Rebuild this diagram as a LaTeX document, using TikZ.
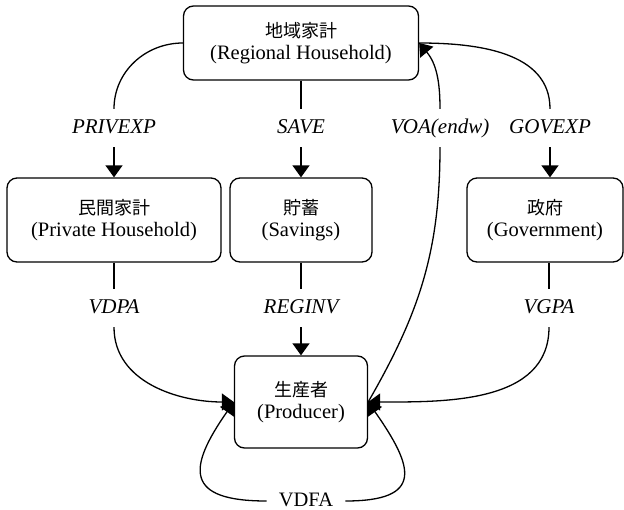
\documentclass[tikz,border=0pt]{standalone}
\usepackage{fontspec}
\setmainfont{Liberation Serif}
\newfontfamily\jpfont{Noto Sans CJK JP}
\usetikzlibrary{arrows.meta}

\newcommand{\jp}[1]{{\jpfont\fontsize{18}{22}\selectfont #1}}

\begin{document}
\begin{tikzpicture}[x=1pt, y=-1pt, >={Triangle[width=17pt,length=12pt]},
    box/.style={rectangle, draw, line width=1.3pt, rounded corners=10pt, align=center, inner sep=0pt, font=\fontsize{20.5}{22}\selectfont},
    flow/.style={inner xsep=12pt, inner ysep=10pt, text height=14pt, text depth=4pt, font=\fontsize{21}{22}\selectfont\itshape},
    link/.style={line width=1.3pt},
    arrow/.style={->, line width=1.3pt}]
  \useasboundingbox (0,0) rectangle (624,509);
  % agents
  \node[box, minimum width=235pt, minimum height=74pt] (reg) at (301,43) {\jp{地域家計}\\(Regional Household)};
  \node[box, minimum width=214pt, minimum height=84pt] (priv) at (114,220) {\jp{民間家計}\\(Private Household)};
  \node[box, minimum width=142pt, minimum height=84pt] (sav) at (301,220) {\jp{貯蓄}\\(Savings)};
  \node[box, minimum width=156pt, minimum height=84pt] (gov) at (545,220) {\jp{政府}\\(Government)};
  \node[box, minimum width=133pt, minimum height=92pt] (prod) at (301,402) {\jp{生産者}\\(Producer)};
  % flows
  \node[flow] (privexp) at (114,128) {PRIVEXP};
  \node[flow] (save) at (301,128) {SAVE};
  \node[flow] (voa) at (440,128) {VOA(endw)};
  \node[flow] (govexp) at (550,128) {GOVEXP};
  \node[flow] (vdpa) at (114,308) {VDPA};
  \node[flow] (reginv) at (301,308) {REGINV};
  \node[flow] (vgpa) at (549,308) {VGPA};
  \node[flow, font=\fontsize{20.5}{22}\selectfont] (vdfa) at (306,501) {VDFA};
  % connectors
  \draw[link] (reg.west) to[out=180, in=90] (privexp);
  \draw[arrow] (privexp) -- (priv);
  \draw[link] (reg) -- (save);
  \draw[arrow] (save) -- (sav);
  \draw[link] (reg.east) to[out=0, in=90] (govexp);
  \draw[arrow] (govexp) -- (govexp |- gov.north);
  \draw[link] (prod.east) to[out=60, in=-90] (voa);
  \draw[arrow] (voa) to[out=90, in=-50] (reg.east);
  \draw[link] (priv) -- (vdpa);
  \draw[arrow] (vdpa) to[out=-90, in=180] (prod.west);
  \draw[link] (sav) -- (reginv);
  \draw[arrow] (reginv) -- (prod);
  \draw[link] (vgpa |- gov.south) -- (vgpa);
  \draw[arrow] (vgpa) to[out=-90, in=0] (prod.east);
  \draw[arrow] (vdfa) to[out=180, in=-125, looseness=2] (prod.west);
  \draw[arrow] (vdfa) to[out=0, in=-55, looseness=2] (prod.east);
\end{tikzpicture}
\end{document}
